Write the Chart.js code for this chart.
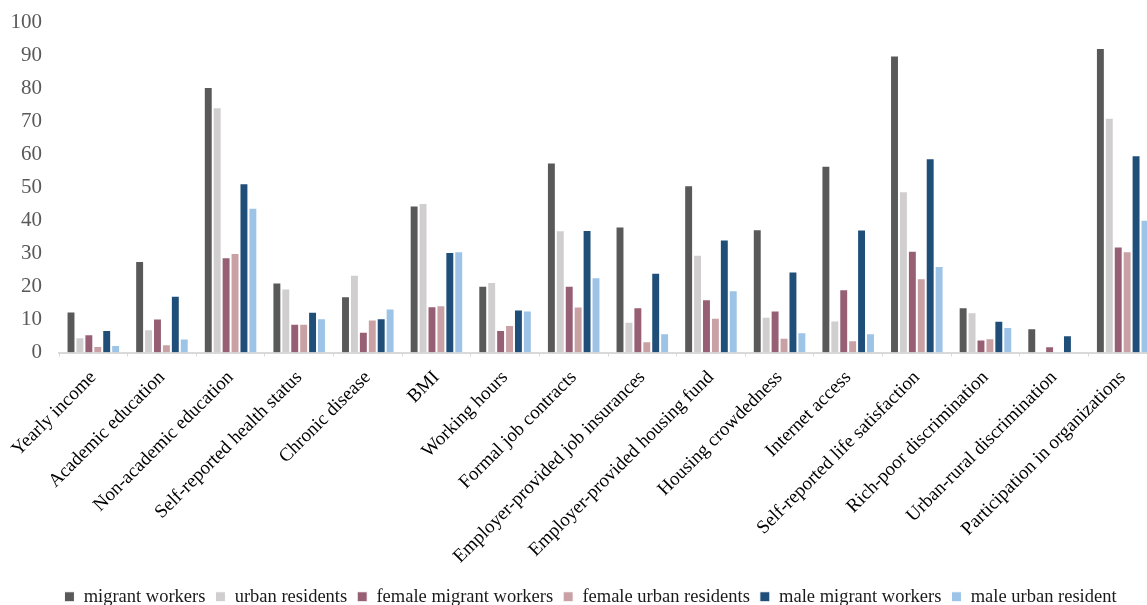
<!DOCTYPE html>
<html>
<head>
<meta charset="utf-8">
<script src="https://cdn.jsdelivr.net/npm/chart.js@4.4.1/dist/chart.umd.min.js"></script>
<style>
  html, body { margin: 0; padding: 0; background: #fff; overflow: hidden; }
  #wrap { width: 1180px; height: 605px; }
</style>
</head>
<body>
<div id="wrap"><canvas id="groupChart" width="1180" height="605"></canvas></div>
<script>
// categories on the x axis
const categories = [
    'Yearly income', 'Academic education', 'Non-academic education',
    'Self-reported health status', 'Chronic disease', 'BMI', 'Working hours',
    'Formal job contracts', 'Employer-provided job insurances',
    'Employer-provided housing fund', 'Housing crowdedness', 'Internet access',
    'Self-reported life satisfaction', 'Rich-poor discrimination',
    'Urban-rural discrimination', 'Participation in organizations'
];

// series values
const migrantWorkers   = [12.4, 27.7, 80.3, 21.2, 17.0, 44.5, 20.2, 57.5, 38.1, 50.6, 37.3, 56.5, 89.9, 13.7, 7.3, 92.1];
const urbanResidents   = [4.6, 7.0, 74.2, 19.4, 23.5, 45.2, 21.3, 37.0, 9.3, 29.6, 10.8, 9.7, 48.8, 12.2, null, 71.0];
const femaleMigrant    = [5.5, 10.3, 28.8, 8.7, 6.3, 14.0, 6.8, 20.2, 13.7, 16.1, 12.7, 19.1, 30.8, 3.9, 1.9, 32.1];
const femaleUrban      = [2.0, 2.5, 30.1, 8.7, 10.0, 14.3, 8.3, 13.9, 3.4, 10.5, 4.5, 3.7, 22.5, 4.3, null, 30.6];
const maleMigrant      = [6.8, 17.2, 51.2, 12.3, 10.4, 30.4, 13.0, 37.1, 24.1, 34.2, 24.5, 37.2, 58.8, 9.6, 5.2, 59.7];
const maleUrban        = [2.3, 4.2, 43.8, 10.4, 13.3, 30.6, 12.7, 22.8, 5.8, 18.8, 6.1, 5.8, 26.2, 7.7, null, 40.2];

// y axis ticks
const yTicks = [0, 10, 20, 30, 40, 50, 60, 70, 80, 90, 100];

const seriesNames  = ['migrant workers', 'urban residents', 'female migrant workers',
                      'female urban residents', 'male migrant workers', 'male urban resident'];
const seriesValues = [migrantWorkers, urbanResidents, femaleMigrant, femaleUrban, maleMigrant, maleUrban];
const seriesColors = ['#595959', '#d0cece', '#975f74', '#c9a1a5', '#1f4e79', '#9dc3e6'];

const serif = "'Liberation Serif', 'Times New Roman', serif";

const datasets = seriesNames.map((name, i) => ({
    label: name,
    data: seriesValues[i],
    backgroundColor: seriesColors[i],
    borderColor: '#ffffff',
    borderWidth: 1,
    categoryPercentage: 0.78,
    barPercentage: 1.0
}));

// the original legend sits a little right of the plot's centre
const legendNudge = {
    id: 'legendNudge',
    afterLayout: function(chart) {
        if (chart.legend) {
            chart.legend.left += 7;
            chart.legend.right += 7;
        }
    }
};

new Chart(document.getElementById('groupChart'), {
    type: 'bar',
    data: { labels: categories, datasets: datasets },
    plugins: [legendNudge],
    options: {
        responsive: false,
        animation: false,
        layout: { padding: { left: 10, right: 23, top: 22, bottom: -11 } },
        plugins: {
            legend: {
                position: 'bottom',
                labels: {
                    boxWidth: 10,
                    boxHeight: 10,
                    padding: 10,
                    color: '#1a1a1a',
                    font: { family: serif, size: 18.5 }
                }
            },
            tooltip: { enabled: false }
        },
        scales: {
            x: {
                afterFit: function(scale) {
                    // rotated first label may hang left of the plot, like the original
                    scale.paddingLeft = 0;
                    scale.paddingRight = 0;
                    scale.height = 225;
                },
                grid: {
                    display: true,
                    drawOnChartArea: false,
                    offset: true,
                    tickLength: 4,
                    color: '#d9d9d9'
                },
                border: { display: true, color: '#d9d9d9', width: 2 },
                ticks: {
                    autoSkip: false,
                    minRotation: 45,
                    maxRotation: 45,
                    padding: 10,
                    color: '#000000',
                    font: { family: serif, size: 19 }
                }
            },
            y: {
                min: 0,
                max: 100,
                afterBuildTicks: function(scale) {
                    scale.ticks = yTicks.map(v => ({ value: v }));
                },
                afterFit: function(scale) {
                    scale.width = 49;
                    scale.paddingTop = 0;
                    scale.paddingBottom = 0;
                },
                grid: { display: false, drawTicks: false },
                border: { display: false },
                ticks: {
                    padding: 17,
                    color: '#595959',
                    font: { family: serif, size: 21 }
                }
            }
        }
    }
});
</script>
</body>
</html>
